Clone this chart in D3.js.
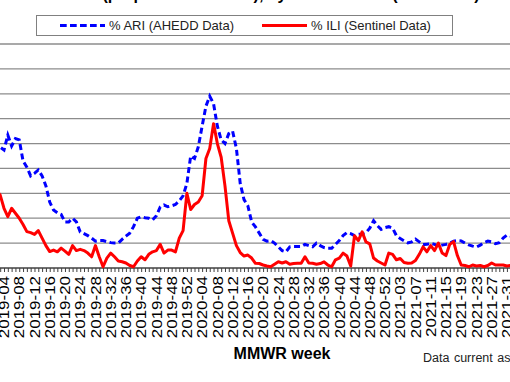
<!DOCTYPE html>
<html><head><meta charset="utf-8">
<script src="https://cdn.jsdelivr.net/npm/d3@7"></script>
<style>body{margin:0;background:#fff;overflow:hidden}svg{display:block}text{font-family:"Liberation Sans",Arial,sans-serif}</style>
</head><body>
<svg id="c" width="510" height="382"></svg>
<script>
const years = [2019, 2020, 2021];
const weeksPerYear = [52, 53, 33];
const weeks = [];
years.forEach((y, k) => { for (let w = 1; w <= weeksPerYear[k]; w++) weeks.push(y + "-" + String(w).padStart(2, "0")); });

const ari = [4.7,4.8,4.85,4.74,5.34,4.9,5.2,5.15,4.3,4.05,3.7,3.8,3.94,3.7,3.3,2.65,2.33,2.22,2.15,1.85,1.85,2.0,1.85,1.45,1.38,1.3,1.2,1.08,1.1,1.1,1.06,1.02,1.0,1.0,1.15,1.28,1.4,1.66,2.0,2.06,2.02,2.0,1.93,2.1,2.45,2.53,2.46,
2.5,2.55,2.7,2.9,3.4,4.5,4.4,4.87,5.7,6.5,6.9,6.6,5.7,5.15,5.0,5.4,5.5,4.8,3.4,2.75,2.5,1.85,1.65,1.4,1.15,1.08,1.1,1.0,0.85,0.7,0.65,0.85,0.86,0.86,0.86,0.95,0.9,0.85,1.0,0.9,0.82,0.79,0.79,0.95,1.1,
1.3,1.42,1.38,1.3,1.35,1.37,1.42,1.6,1.9,1.7,1.55,1.62,1.66,1.6,1.3,1.18,1.09,1.01,1.05,1.16,1.05,0.94,0.95,0.99,0.95,0.88,0.92,0.95,1.0,1.08,1.1,1.09,1.0,0.93,0.88,0.84,0.92,1.02,1.08,1.05,0.98,1.02,1.2,1.32,1.28,1.25,1.3];

const ili = [3.3,3.1,2.93,2.4,2.06,2.4,2.2,2.0,1.75,1.46,1.42,1.35,1.5,1.2,0.9,0.66,0.72,0.65,0.8,0.68,0.55,0.9,0.7,0.75,0.7,0.6,0.45,0.9,0.45,0.05,0.4,0.6,0.45,0.28,0.25,0.2,0.1,0.05,0.28,0.45,0.33,0.55,0.65,0.7,0.95,0.6,0.72,
0.72,0.65,1.2,1.5,3.0,2.35,2.55,2.65,2.9,4.4,4.8,5.8,5.0,4.45,3.3,1.9,1.4,0.9,0.62,0.48,0.52,0.4,0.19,0.18,0.12,0.08,0.05,0.15,0.25,0.2,0.25,0.15,0.18,0.19,0.19,0.45,0.2,0.19,0.15,0.18,0.25,0.12,0.05,0.33,0.4,
0.6,0.48,0.08,1.3,1.1,1.45,1.05,0.97,0.4,0.28,0.2,0.12,0.6,0.55,0.33,0.38,0.22,0.19,0.2,0.3,0.55,0.85,0.65,0.9,0.7,1.0,0.6,0.5,0.95,1.06,0.5,0.12,0.1,0.05,0.12,0.08,0.1,0.05,0.1,0.2,0.12,0.12,0.12,0.08,0.1,0.1,0.12];

const yTicks = [0,1,2,3,4,5,6,7,8,9];
const seriesNames = ["% ARI (AHEDD Data)", "% ILI (Sentinel Data)"];
const xTitle = "MMWR week";
const footnote = "Data current as of";
const title = "(proportion of visits), by MMWR week (2019-2021)";

const svg = d3.select("#c");
const x = d3.scaleLinear().domain([0, weeks.length - 1]).range([-7.43, -7.43 + 3.81 * (weeks.length - 1)]);
const y = d3.scaleLinear().domain([0, 9]).range([268, 44]);

// title (mostly cut off at the top edge)
svg.append("text").attr("x", 291).attr("y", 0).attr("text-anchor", "middle")
  .attr("font-size", 16).attr("font-weight", "bold").attr("fill", "#000").text(title);

// gridlines
svg.append("g").selectAll("line").data(yTicks.filter(d => d > 0)).join("line")
  .attr("x1", -20).attr("x2", 530).attr("y1", d => y(d)).attr("y2", d => y(d))
  .attr("stroke", "#8c8c8c").attr("stroke-width", 1.3);

// x axis
const tickVals = d3.range(weeks.length);
const xAxis = d3.axisBottom(x).tickValues(tickVals).tickSize(4).tickFormat("");
const ax = svg.append("g").attr("transform", "translate(0,268)").call(xAxis);
ax.select(".domain").attr("stroke", "#404040").attr("stroke-width", 1.3).attr("d", "M-20,0H530");
ax.selectAll(".tick line").attr("stroke", "#404040");

const labelIdx = tickVals.filter(i => i % 4 === 3);
svg.append("g").selectAll("text").data(labelIdx).join("text")
  .attr("transform", i => `translate(${x(i)},276) rotate(-90) scale(1.13,1)`)
  .attr("text-anchor", "end").attr("dy", "0.35em")
  .attr("font-size", 15).attr("fill", "#000").text(i => weeks[i]);

// lines
const line = d3.line().x((d, i) => x(i)).y(d => y(d));
svg.append("path").datum(ari).attr("d", line).attr("fill", "none")
  .attr("stroke", "#0000ff").attr("stroke-width", 3).attr("stroke-dasharray", "6,3.5");
svg.append("path").datum(ili).attr("d", line).attr("fill", "none")
  .attr("stroke", "#ff0000").attr("stroke-width", 3).attr("stroke-linejoin", "round");

// legend
const lg = svg.append("g");
lg.append("rect").attr("x", 36.5).attr("y", 15.5).attr("width", 416).attr("height", 20)
  .attr("fill", "#fff").attr("stroke", "#808080").attr("stroke-width", 1);
lg.append("line").attr("x1", 60).attr("x2", 105).attr("y1", 25.5).attr("y2", 25.5)
  .attr("stroke", "#0000ff").attr("stroke-width", 3).attr("stroke-dasharray", "6.7,3.3");
lg.append("text").attr("x", 109).attr("y", 30).attr("font-size", 13).attr("fill", "#222").text(seriesNames[0]);
lg.append("line").attr("x1", 262).attr("x2", 307).attr("y1", 25.5).attr("y2", 25.5)
  .attr("stroke", "#ff0000").attr("stroke-width", 3);
lg.append("text").attr("x", 311).attr("y", 30).attr("font-size", 13).attr("fill", "#222").text(seriesNames[1]);

// axis title & footnote
svg.append("text").attr("x", 282).attr("y", 359).attr("text-anchor", "middle")
  .attr("font-size", 16).attr("font-weight", "bold").attr("fill", "#000").text(xTitle);
svg.append("text").attr("x", 423).attr("y", 362).attr("font-size", 12.5).attr("word-spacing", 1)
  .attr("fill", "#222").text(footnote);
</script>
</body></html>
